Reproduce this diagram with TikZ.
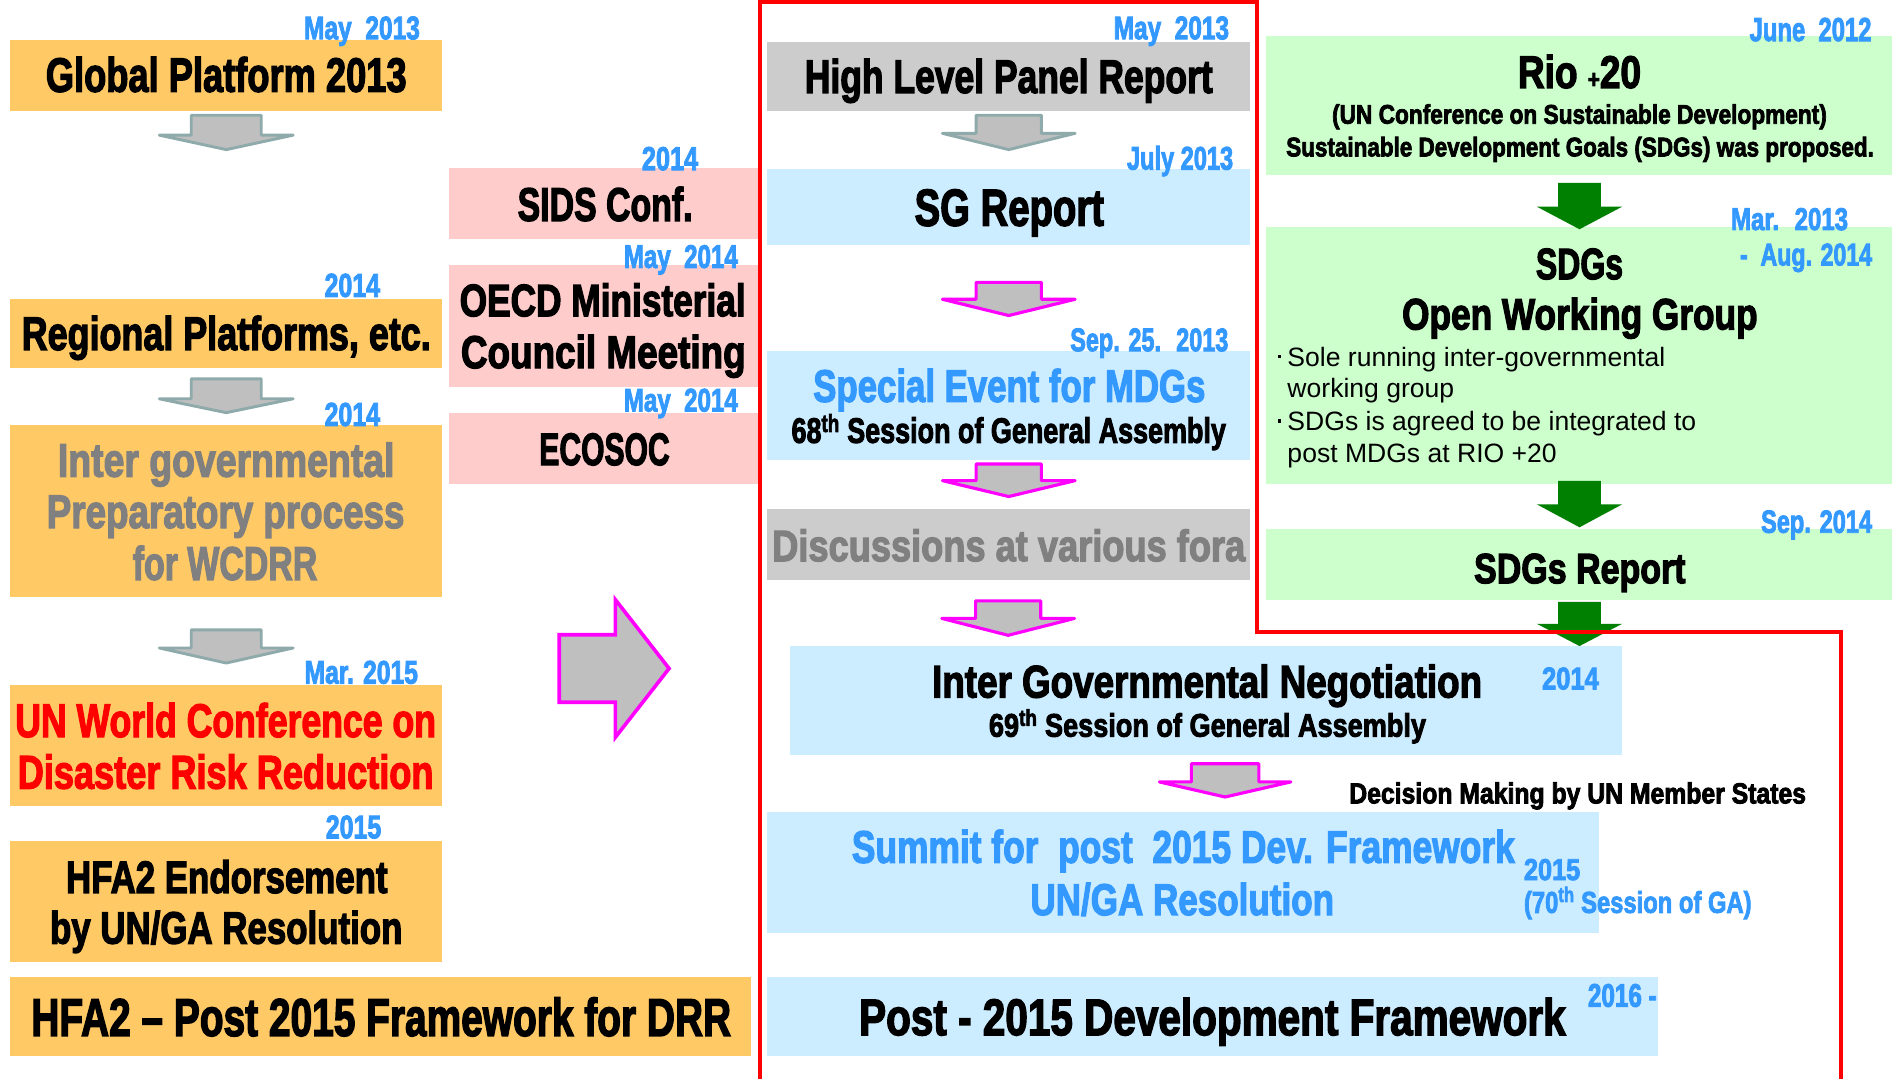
\documentclass[tikz,border=0pt]{standalone}
\usepackage{fontspec}
\usepackage{graphicx}
\setmainfont{Liberation Sans}
\newfontfamily\impf[FakeBold=3]{Liberation Sans}
\usetikzlibrary{fit}

\definecolor{boxorange}{HTML}{FFC965}
\definecolor{boxpink}{HTML}{FFCCCC}
\definecolor{boxblue}{HTML}{CCECFF}
\definecolor{boxgray}{HTML}{CCCCCC}
\definecolor{boxgreen}{HTML}{CCFFCC}
\definecolor{dateblue}{HTML}{3399FF}
\definecolor{textgray}{HTML}{808080}
\definecolor{arrfill}{HTML}{BFBFBF}
\definecolor{arredge}{HTML}{8FAAAA}
\definecolor{arrgreen}{HTML}{008000}
\definecolor{pinkline}{HTML}{FF00FF}
\definecolor{frame}{HTML}{FF0000}

% condensed heavy text: font size, target width, text
\newcommand\ct[3]{\resizebox{#2pt}{\height}{\fontsize{#1pt}{#1pt}\selectfont\impf\bfseries #3}}
% downward block arrow: style, centre x, top y, half shaft, half head, shoulder, tip
\newcommand\downblock[7]{%
  \draw[#1] (#2-#4,#3) -- (#2+#4,#3) -- (#2+#4,#3+#6) -- (#2+#5,#3+#6)
    -- (#2,#3+#7) -- (#2-#5,#3+#6) -- (#2-#4,#3+#6) -- cycle;}
\newcommand\sqbullet{\rule[6.5pt]{3.2pt}{3.2pt}\hspace{5pt}}

\tikzset{
  box/.style={inner sep=0pt, outer sep=0pt, draw=none},
  txt/.style={anchor=base, inner sep=0pt, outer sep=0pt},
  date/.style={anchor=base east, inner sep=0pt, outer sep=0pt, text=dateblue},
  grayarrow/.style={fill=arrfill, draw=arredge, line width=2.4pt, line join=round},
  pinkarrow/.style={fill=arrfill, draw=pinkline, line width=2.6pt, line join=round},
  greenarrow/.style={fill=arrgreen, draw=none},
  redframe/.style={draw=frame, line width=3.2pt, line join=miter},
}

\begin{document}
\begin{tikzpicture}[x=1pt, y=-1pt]
\useasboundingbox (0,0) rectangle (1568,894);
\fill[white] (0,0) rectangle (1568,894);

% ---------- left column: DRR track ----------
\node[box, fill=boxorange, fit={(8,33) (366,92)}] (gp) {};
\node[box, fill=boxorange, fit={(8,248) (366,305)}] (rp) {};
\node[box, fill=boxorange, fit={(8,352) (366,495)}] (ig) {};
\node[box, fill=boxorange, fit={(8,568) (366,668)}] (wc) {};
\node[box, fill=boxorange, fit={(8,697) (366,797)}] (he) {};
\node[box, fill=boxorange, fit={(8,810) (622,875)}] (hp) {};

\node[txt] (gp-t) at (187.5,76) {\ct{39.8}{299}{Global Platform 2013}};
\node[txt] (rp-t) at (187.5,290) {\ct{39}{339}{Regional Platforms, etc.}};
\node[txt, text=textgray] (ig-t1) at (187.5,395) {\ct{39}{279}{Inter governmental}};
\node[txt, text=textgray] (ig-t2) at (187,437.6) {\ct{39}{296.5}{Preparatory process}};
\node[txt, text=textgray] (ig-t3) at (186.5,480.5) {\ct{39}{153}{for WCDRR}};
\node[txt, text=red] (wc-t1) at (187,610.8) {\ct{39}{348.7}{UN World Conference on}};
\node[txt, text=red] (wc-t2) at (187,653.5) {\ct{39}{344.6}{Disaster Risk Reduction}};
\node[txt] (he-t1) at (188,740) {\ct{37.5}{266.5}{HFA2 Endorsement}};
\node[txt] (he-t2) at (187.5,782) {\ct{37.5}{292}{by UN/GA Resolution}};
\node[txt] (hp-t) at (316,858.5) {\ct{44}{580}{HFA2 – Post 2015 Framework for DRR}};

\downblock{grayarrow}{187.5}{95.5}{29}{55.5}{16.5}{28.5}
\downblock{grayarrow}{187.5}{314}{29}{55.5}{16.5}{28}
\downblock{grayarrow}{187.5}{522}{29}{55.5}{15}{27.5}

% ---------- pink column: related meetings ----------
\node[box, fill=boxpink, fit={(372,139) (628,198)}] (sids) {};
\node[box, fill=boxpink, fit={(372,220) (628,321)}] (oecd) {};
\node[box, fill=boxpink, fit={(372,342) (628,401)}] (eco) {};

\node[txt] (sids-t) at (501.5,183) {\ct{39}{145}{SIDS Conf.}};
\node[txt] (oecd-t1) at (499.5,262) {\ct{37.5}{237}{OECD Ministerial}};
\node[txt] (oecd-t2) at (500,305) {\ct{38}{236}{Council Meeting}};
\node[txt] (eco-t) at (501,385.4) {\ct{37.7}{108}{ECOSOC}};

% big arrow towards the development track
\draw[pinkarrow, line width=3pt, line join=miter] (463.5,526) -- (510,526) -- (510,497) -- (554.5,554)
  -- (510,611) -- (510,582) -- (463.5,582) -- cycle;

% ---------- middle column: post-2015 development track ----------
\node[box, fill=boxgray, fit={(636,35) (1036,92)}] (hlp) {};
\node[box, fill=boxblue, fit={(636,140) (1036,203)}] (sg) {};
\node[box, fill=boxblue, fit={(636,291) (1036,381)}] (se) {};
\node[box, fill=boxgray, fit={(636,422) (1036,481)}] (dis) {};
\node[box, fill=boxblue, fit={(655,535) (1344,626)}] (ign) {};
\node[box, fill=boxblue, fit={(636,673) (1325,773)}] (sum) {};
\node[box, fill=boxblue, fit={(636,810) (1374,875)}] (post) {};

\node[txt] (hlp-t) at (836,77) {\ct{39}{338}{High Level Panel Report}};
\node[txt] (sg-t) at (836.5,187) {\ct{43}{157}{SG Report}};
\node[txt, text=dateblue] (se-t1) at (836.5,333) {\ct{37.7}{325}{Special Event for MDGs}};
\node[txt] (se-t2) at (836,367) {\ct{29.3}{360}{68\textsuperscript{th} Session of General Assembly}};
\node[txt, text=textgray] (dis-t) at (836,465) {\ct{36.3}{392}{Discussions at various fora}};
\node[txt] (ign-t1) at (1000.4,578) {\ct{37.7}{455.8}{Inter Governmental Negotiation}};
\node[txt] (ign-t2) at (1000.7,610.5) {\ct{27}{362.2}{69\textsuperscript{th} Session of General Assembly}};
\node[txt] (dm-t) at (1307.5,665.8) {\ct{24}{378.5}{Decision Making by UN Member States}};
\node[txt, text=dateblue] (sum-t1) at (980.7,715) {\ct{37.7}{549.4}{Summit for~ post~ 2015 Dev. Framework}};
\node[txt, text=dateblue] (sum-t2) at (979.8,758.3) {\ct{36.7}{251.6}{UN/GA Resolution}};
\node[txt] (post-t) at (1004.8,857.8) {\ct{42.5}{585.6}{Post - 2015 Development Framework}};

\downblock{grayarrow}{836}{95.5}{27}{55}{15}{28.5}
\downblock{pinkarrow}{836}{234}{27}{55}{14}{27.5}
\downblock{pinkarrow}{836}{384.5}{27}{55}{13.8}{27}
\downblock{pinkarrow}{835.5}{498}{27}{55}{14.5}{28.5}
\downblock{pinkarrow}{1015.3}{633}{28}{54.5}{15}{27.5}

% ---------- right column: SDGs track ----------
\node[box, fill=boxgreen, fit={(1049,30) (1568,145)}] (rio) {};
\node[box, fill=boxgreen, fit={(1049,188) (1568,401)}] (owg) {};
\node[box, fill=boxgreen, fit={(1049,438) (1568,497)}] (sdr) {};

\node[txt] (rio-t1) at (1309,72.9) {\ct{37.8}{102}{Rio {\fontsize{21pt}{21pt}\selectfont +}20}};
\node[txt] (rio-t2) at (1309,102.5) {\ct{22.3}{410}{(UN Conference on Sustainable Development)}};
\node[txt] (rio-t3) at (1309.5,129.6) {\ct{22.3}{487}{Sustainable Development Goals (SDGs) was proposed.}};
\node[txt] (owg-t1) at (1309,231.3) {\ct{36.3}{72.2}{SDGs}};
\node[txt] (owg-t2) at (1309.3,273) {\ct{36.3}{294.6}{Open Working Group}};
\node[txt] (sdr-t) at (1309.3,483.3) {\ct{35}{175.3}{SDGs Report}};

\begin{scope}[every node/.style={anchor=base west, inner sep=0pt, outer sep=0pt, font=\fontsize{22pt}{26pt}\selectfont}]
\node (owg-b1) at (1067,303.5) {\llap{\sqbullet}Sole running inter-governmental};
\node (owg-b2) at (1067,329.8) {working group};
\node (owg-b3) at (1067,356.9) {\llap{\sqbullet}SDGs is agreed to be integrated to};
\node (owg-b4) at (1067,383.3) {post MDGs at RIO +20};
\end{scope}

\downblock{greenarrow}{1309}{151.6}{17.8}{35.3}{19.7}{38.4}
\downblock{greenarrow}{1309}{398.6}{17.8}{35.3}{19.4}{38.4}
\downblock{greenarrow}{1309}{498.7}{17.8}{35.3}{18.3}{36.7}

% ---------- date labels ----------
\node[date] (d-gp) at (348,32.5) {\ct{27}{96}{May~ 2013}};
\node[date] (d-rp) at (315,246) {\ct{27.5}{46}{2014}};
\node[date] (d-ig) at (315,353) {\ct{27.5}{46}{2014}};
\node[date] (d-wc) at (346.4,566.5) {\ct{27}{94}{Mar. 2015}};
\node[date] (d-he) at (316,694.7) {\ct{27}{46}{2015}};
\node[date] (d-sids) at (578.6,141) {\ct{27.5}{46.6}{2014}};
\node[date] (d-oecd) at (611.5,222) {\ct{27}{94.5}{May~ 2014}};
\node[date] (d-eco) at (611.5,341) {\ct{27}{94.5}{May~ 2014}};
\node[date] (d-hlp) at (1018.6,32.5) {\ct{27}{95.6}{May~ 2013}};
\node[date] (d-sg) at (1022,140.5) {\ct{27}{88}{July 2013}};
\node[date] (d-se) at (1018,291) {\ct{27}{131}{Sep. 25.~ 2013}};
\node[date] (d-rio) at (1551,34) {\ct{27.5}{101}{June~ 2012}};
\node[date] (d-owg1) at (1531.6,190.6) {\ct{26}{97}{Mar.~ 2013}};
\node[date] (d-owg2) at (1551.5,220) {\ct{26}{109.5}{-~ Aug. 2014}};
\node[date] (d-sdr) at (1551.5,441.5) {\ct{26.5}{92}{Sep. 2014}};
\node[date] (d-ign) at (1325,571.3) {\ct{26}{47}{2014}};
\node[date] (d-sum1) at (1309.6,729.3) {\ct{25}{46.6}{2015}};
\node[date] (d-sum2) at (1451.6,756.5) {\ct{25}{188.6}{(70\textsuperscript{th} Session of GA)}};
\node[date] (d-post) at (1373,834.3) {\ct{27}{57}{2016 -}};

% ---------- outline of the UN development process ----------
\draw[redframe] (630,900) -- (630,1.6) -- (1041.5,1.6) -- (1041.5,524) -- (1525.5,524) -- (1525.5,900);
\end{tikzpicture}
\end{document}
